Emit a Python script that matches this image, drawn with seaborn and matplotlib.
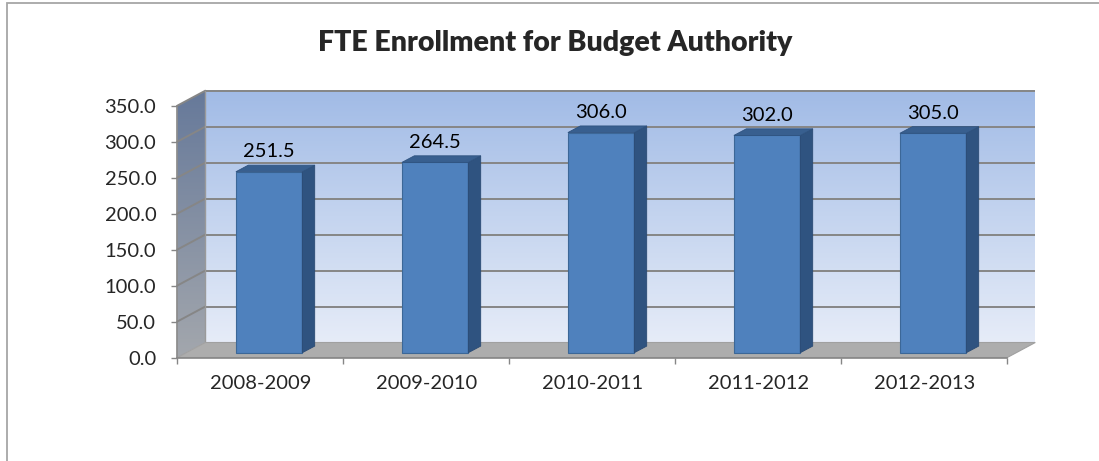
import numpy as np
import matplotlib
matplotlib.use("Agg")
import matplotlib.pyplot as plt
from matplotlib.patches import Polygon, Rectangle
from matplotlib.colors import LinearSegmentedColormap
import seaborn as sns
import pandas as pd

# Data
periods = ["2008-2009", "2009-2010", "2010-2011", "2011-2012", "2012-2013"]
fte = [251.5, 264.5, 306.0, 302.0, 305.0]
y_ticks = [0, 50, 100, 150, 200, 250, 300, 350]
title = "FTE Enrollment for Budget Authority"

sns.set_style("white")
plt.rcParams["font.family"] = ["Lato", "DejaVu Sans"]

W, H = 1099, 461
fig = plt.figure(figsize=(W / 100, H / 100), dpi=100)
# axes = front plane of the 3-D box
ax = fig.add_axes([177.3 / W, 1 - 357.5 / H, 830 / W, 251.8 / H])
ax.patch.set_visible(False)

df = pd.DataFrame({"period": periods, "fte": fte})
sns.barplot(data=df, x="period", y="fte", color="#4f81bd", width=0.4,
            saturation=1, edgecolor="#3c6797", linewidth=0.8, ax=ax, zorder=5)
bars = list(ax.patches)

ymax = y_ticks[-1]
xlim = (-0.5, len(periods) - 0.5)
ax.set_xlim(*xlim)
ax.set_ylim(0, ymax)


def px(dx, dy):
    """Convert a pixel offset (right, up) into data units."""
    sx = (xlim[1] - xlim[0]) / ax.bbox.width
    sy = ymax / ax.bbox.height
    return dx * sx, dy * sy


x0, x1 = xlim
bx, by = px(28, 15)      # depth of the box (back wall offset)
fx, fy = px(8.8, 4.8)    # bar front face offset
dx, dy = px(12.4, 6.6)   # bar depth

grid_c = "#868686"
grad = np.linspace(0, 1, 256).reshape(-1, 1)

# back wall with vertical gradient
wall_cmap = LinearSegmentedColormap.from_list("wall", ["#e6ecf8", "#c4d4ef", "#a1bbe6"])
ax.imshow(grad, cmap=wall_cmap, origin="lower", aspect="auto",
          extent=[x0 + bx, x1 + bx, by, ymax + by], zorder=0,
          clip_on=False, interpolation="bilinear")

# left side wall
side_cmap = LinearSegmentedColormap.from_list("side", ["#a3a7ad", "#66799a"])
side_poly = Polygon([(x0, 0), (x0 + bx, by), (x0 + bx, ymax + by), (x0, ymax)],
                    closed=True, facecolor="none", edgecolor="none",
                    transform=ax.transData)
im = ax.imshow(grad, cmap=side_cmap, origin="lower", aspect="auto",
               extent=[x0, x0 + bx, 0, ymax + by], zorder=0.5,
               interpolation="bilinear")
im.set_clip_box(fig.bbox)
im.set_clip_path(side_poly)

# gridlines on back wall and side wall
for v in y_ticks[1:]:
    ax.plot([x0 + bx, x1 + bx], [v + by, v + by], color=grid_c, lw=1.4,
            zorder=1, clip_on=False, solid_capstyle="butt")
    ax.plot([x0, x0 + bx], [v, v + by], color=grid_c, lw=1.4,
            zorder=1, clip_on=False)
ax.plot([x0 + bx, x0 + bx], [by, ymax + by], color="#9a9a9a", lw=1,
        zorder=1, clip_on=False)

# floor
ax.add_patch(Polygon([(x0, 0), (x1, 0), (x1 + bx, by), (x0 + bx, by)],
                     closed=True, facecolor="#adadad", edgecolor="#a0a0a0",
                     lw=0.8, zorder=1.5, clip_on=False))

# 3-D bars: shift front faces and add side / top faces
for bar, v in zip(bars, fte):
    bar.set_x(bar.get_x() + fx)
    bar.set_y(bar.get_y() + fy)
    bar.set_clip_on(False)
    xl = bar.get_x()
    xr = xl + bar.get_width()
    yb = bar.get_y()
    yt = yb + bar.get_height()
    ax.add_patch(Polygon([(xr, yb), (xr + dx, yb + dy), (xr + dx, yt + dy), (xr, yt)],
                         closed=True, facecolor="#2f5380", edgecolor="#2a4a73",
                         lw=0.6, zorder=5, clip_on=False))
    ax.add_patch(Polygon([(xl, yt), (xr, yt), (xr + dx, yt + dy), (xl + dx, yt + dy)],
                         closed=True, facecolor="#385f8f", edgecolor="#2f5380",
                         lw=0.6, zorder=5, clip_on=False))
    ax.annotate(f"{v:.1f}", xy=((xl + xr) / 2, yt), xytext=(0, 10.5),
                textcoords="offset points", ha="center", va="baseline",
                fontsize=14.5, color="black", zorder=6, annotation_clip=False)

# axes frame and ticks
for s in ["top", "right"]:
    ax.spines[s].set_visible(False)
for s in ["left", "bottom"]:
    ax.spines[s].set_color(grid_c)
    ax.spines[s].set_linewidth(1.2)
    ax.spines[s].set_zorder(2.5)

ax.set_yticks(y_ticks, labels=[f"{t:.1f}" for t in y_ticks])
ax.set_xticks(np.arange(len(periods) + 1) - 0.5, labels=[""] * (len(periods) + 1))
ax.set_xticks(range(len(periods)), labels=periods, minor=True)
ax.tick_params(axis="y", left=True, direction="out", length=4.3, width=1,
               color=grid_c, pad=10.8, labelsize=14.5)
ax.tick_params(axis="x", which="major", bottom=True, direction="out",
               length=4.3, width=1, color=grid_c)
ax.tick_params(axis="x", which="minor", bottom=True, length=0, pad=12.5,
               labelsize=14.5)
ax.set_xlabel("")
ax.set_ylabel("")
ax.set_xlim(*xlim)
ax.set_ylim(0, ymax)

fig.text(555 / W, 1 - 50.7 / H, title, ha="center", va="baseline",
         fontsize=20.5, fontweight="heavy")

# chart border
fig.add_artist(Rectangle((6.5 / W, -0.5), 2, 1 - 3.5 / H + 0.5,
                         transform=fig.transFigure, fill=False,
                         edgecolor="#a6a6a6", lw=1.3))

fig.savefig("out.png", dpi=100)
